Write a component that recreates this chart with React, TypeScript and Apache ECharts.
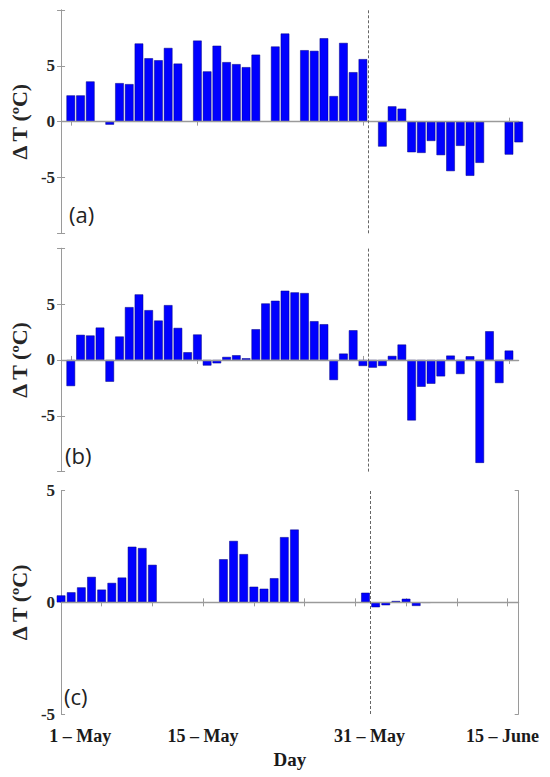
import React, { useEffect, useRef } from "react";
import * as echarts from "echarts";

// Day index: 1 = 1 May
const DAYS_AB = [
  1, 2, 3, 4, 5, 6, 7, 8, 9, 10, 11, 12, 13, 14, 15, 16, 17, 18, 19, 20, 21, 22, 23, 24,
  25, 26, 27, 28, 29, 30, 31, 32, 33, 34, 35, 36, 37, 38, 39, 40, 41, 42, 43, 44, 45, 46, 47,
];
const VALUES_A = [
  2.35, 2.35, 3.6, null, -0.27, 3.45, 3.36, 7.0, 5.68, 5.5, 6.6, 5.2, null, 7.26, 4.5, 6.8,
  5.33, 5.15, 4.88, 6.0, null, 6.73, 7.89, null, 6.4, 6.34, 7.47, 2.29, 7.05, 4.43, 5.6, null,
  -2.23, 1.37, 1.16, -2.74, -2.8, -1.73, -3.0, -4.43, -2.17, -4.85, -3.69, null, null, -2.95, -1.85,
];
const VALUES_B = [
  -2.34, 2.25, 2.19, 2.9, -1.95, 2.1, 4.73, 5.87, 4.46, 3.53, 4.91, 2.87, 0.69, 2.28, -0.5, -0.3,
  0.27, 0.42, 0.15, 2.75, 5.06, 5.3, 6.2, 6.05, 5.99, 3.47, 3.2, -1.8, 0.57, 2.66, -0.54, -0.69,
  -0.54, 0.36, 1.38, -5.42, -2.4, -2.13, -1.47, 0.39, -1.26, 0.33, -9.22, 2.57, -2.07, 0.84, null,
];
const DAYS_C = [
  1, 2, 3, 4, 5, 6, 7, 8, 9, 10, 11, 12, 13, 14, 15, 16, 17, 18, 19, 20, 21, 22, 23, 24,
  25, 26, 27, 28, 29, 30, 31, 32, 33, 34, 35, 36, 37,
];
const VALUES_C = [
  0.31, 0.45, 0.67, 1.14, 0.57, 0.87, 1.11, 2.49, 2.43, 1.68, null, null, null, null, null, null,
  1.93, 2.75, 2.16, 0.7, 0.61, 1.08, 2.92, 3.26, null, null, null, null, null, null,
  0.43, -0.22, -0.13, 0.06, 0.16, -0.16, -0.02,
];

const X_RANGE_AB = [0, 47];
const X_RANGE_C = [1, 46.1];
const X_TICKS_AB = [1, 14, 31, 46];
const X_TICKS_C = [5, 10, 15, 20, 25, 30, 35, 40, 45];
const DAY_LABEL_POS = [2.9, 15, 31.4, 44.5];
const DAY_LABEL_TEXT = ["1 \u2013 May", "15 \u2013 May", "31 \u2013 May", "15 \u2013 June"];
const DIVIDER_DAY = 31.5;
const Y_RANGE_AB = [-10, 10];
const Y_RANGE_C = [-5, 5];
const PANEL_TAGS = ["(a)", "(b)", "(c)"];

const SERIF = '"Liberation Serif", "Times New Roman", serif';
const GRAY = "#9a9a9a";
const GRID_LEFT = 57.3;
const GRID_W = 461.4;
const GRID_H = 223.3;
const GRID_TOPS = [10, 248.3, 490.7];

function pairs(days: number[], vals: (number | null)[]) {
  const out: [number, number][] = [];
  days.forEach((d, i) => {
    const v = vals[i];
    if (v !== null && v !== undefined) out.push([d, v]);
  });
  return out;
}

function xAxes(grid: number, range: number[], ticks: number[], extraBottom: any = {}) {
  const base = {
    type: "value",
    gridIndex: grid,
    min: range[0],
    max: range[1],
    axisLine: { show: true, lineStyle: { color: GRAY, width: 1 } },
    axisTick: { show: true, inside: true, length: 4, customValues: ticks, lineStyle: { color: GRAY } },
    axisLabel: { show: false },
    splitLine: { show: false },
  };
  return [
    { ...base, position: "bottom", ...extraBottom },
    { ...base, position: "top" },
  ];
}

function yAxes(grid: number, range: number[]) {
  const base = {
    type: "value",
    gridIndex: grid,
    min: range[0],
    max: range[1],
    interval: 5,
    axisLine: { show: true, lineStyle: { color: GRAY, width: 1 } },
    axisTick: { show: true, inside: true, length: 4, lineStyle: { color: GRAY } },
    splitLine: { show: false },
  };
  return [
    {
      ...base,
      position: "left",
      axisLabel: {
        show: true,
        margin: 6,
        fontFamily: SERIF,
        fontWeight: "bold",
        fontSize: 17,
        color: "#262626",
        formatter: (v: number) => (Math.abs(v) === 10 ? "" : String(v)),
      },
      name: "\u0394 T (\u00baC)",
      nameLocation: "middle",
      nameGap: 31,
      nameRotate: 90,
      nameTextStyle: { fontFamily: SERIF, fontWeight: "bold", fontSize: 22, color: "#262626" },
    },
    { ...base, position: "right", axisLabel: { show: false } },
  ];
}

function barSeries(idx: number, data: [number, number][]) {
  return {
    type: "bar",
    xAxisIndex: idx * 2,
    yAxisIndex: idx * 2,
    data,
    barWidth: 8.6,
    clip: true,
    itemStyle: { color: "#0000ff", borderColor: "#000080", borderWidth: 0.5 },
    markLine: {
      silent: true,
      symbol: "none",
      label: { show: false },
      animation: false,
      data: [
        { yAxis: 0, lineStyle: { type: "solid", color: GRAY, width: 1.3 } },
        { xAxis: DIVIDER_DAY, lineStyle: { type: [3, 2], color: "#666", width: 1 } },
      ],
    },
  };
}

export default function App() {
  const ref = useRef<HTMLDivElement>(null);
  useEffect(() => {
    if (!ref.current) return;
    const chart = echarts.init(ref.current, undefined, { renderer: "svg" });
    const grids = GRID_TOPS.map((t) => ({ left: GRID_LEFT, top: t, width: GRID_W, height: GRID_H }));
    const xs = [
      ...xAxes(0, X_RANGE_AB, X_TICKS_AB),
      ...xAxes(1, X_RANGE_AB, X_TICKS_AB),
      ...xAxes(2, X_RANGE_C, X_TICKS_C, {
        axisLabel: {
          show: true,
          customValues: DAY_LABEL_POS,
          margin: 13,
          fontFamily: SERIF,
          fontWeight: "bold",
          fontSize: 18,
          color: "#1a1a1a",
          formatter: (v: number) => {
            const i = DAY_LABEL_POS.findIndex((p) => Math.abs(p - v) < 0.01);
            return i >= 0 ? DAY_LABEL_TEXT[i] : "";
          },
        },
        name: "Day",
        nameLocation: "middle",
        nameGap: 36,
        nameTextStyle: { fontFamily: SERIF, fontWeight: "bold", fontSize: 19, color: "#1a1a1a" },
      }),
    ];
    const ys = [...yAxes(0, Y_RANGE_AB), ...yAxes(1, Y_RANGE_AB), ...yAxes(2, Y_RANGE_C)];
    const tagPos = [
      [69, 203],
      [65, 444],
      [64, 685],
    ];
    chart.setOption({
      animation: false,
      backgroundColor: "#ffffff",
      grid: grids,
      xAxis: xs,
      yAxis: ys,
      series: [
        barSeries(0, pairs(DAYS_AB, VALUES_A)),
        barSeries(1, pairs(DAYS_AB, VALUES_B)),
        barSeries(2, pairs(DAYS_C, VALUES_C)),
      ],
      graphic: PANEL_TAGS.map((t, i) => ({
        type: "text",
        left: tagPos[i][0],
        top: tagPos[i][1],
        style: { text: t, font: '22px "Open Sans"', fill: "#222" },
      })),
    });
    return () => chart.dispose();
  }, []);
  return (
    <div
      ref={ref}
      style={{ position: "fixed", left: 0, top: 0, width: 550, height: 777, background: "#fff" }}
    />
  );
}
